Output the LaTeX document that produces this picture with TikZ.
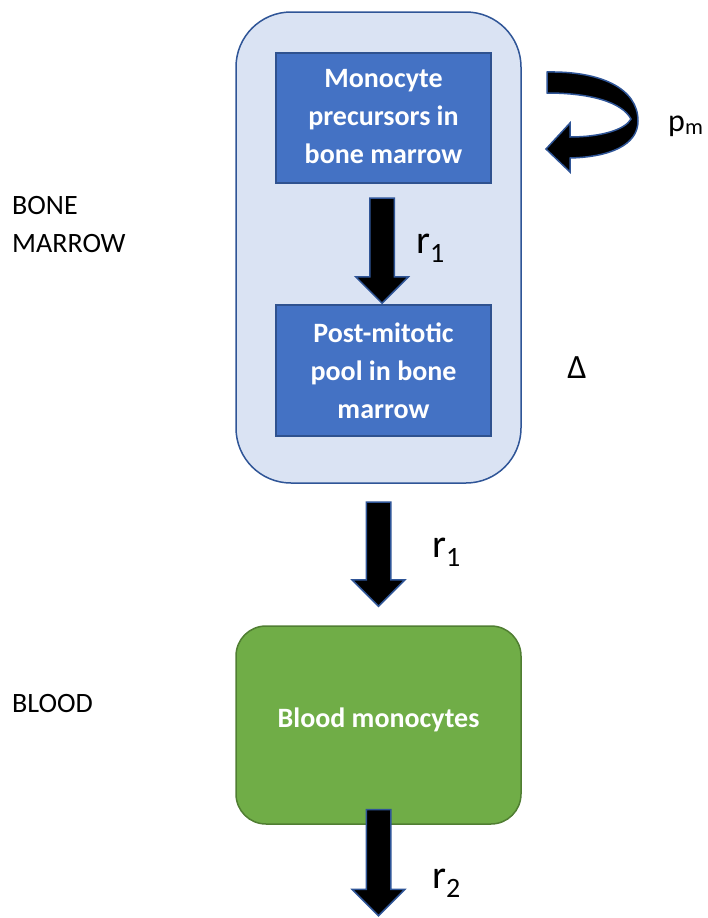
\documentclass[tikz,border=0pt]{standalone}
\usepackage{fontspec}
\setmainfont{Carlito}
\usepackage{tikz}
\usetikzlibrary{shapes.arrows,positioning}
\definecolor{paleblue}{HTML}{DAE3F3}
\definecolor{edgeblue}{HTML}{2F5597}
\definecolor{boxblue}{HTML}{4472C4}
\definecolor{boxedge}{HTML}{2F528F}
\definecolor{bloodgreen}{HTML}{70AD47}
\definecolor{greenedge}{HTML}{507E32}
\newcommand\bodyfont{\fontsize{28}{38}\selectfont}
\tikzset{cellbox/.style={draw=boxedge,fill=boxblue,line width=1.5pt,text=white,
    font=\bodyfont\bfseries,align=center,minimum width=215pt,minimum height=130pt,inner sep=0pt}}
\tikzset{blockarrow/.style={single arrow,draw=edgeblue,fill=black,line width=1.5pt,
    inner xsep=0pt,inner ysep=11.5pt,single arrow head extend=14pt,
    rotate=-90,anchor=tip}}
\tikzset{rate/.style={font=\fontsize{40}{44}\selectfont,anchor=base west,inner sep=0pt}}
\tikzset{place/.style={align=left,anchor=base west,inner sep=0pt}}

\begin{document}
\begin{tikzpicture}[x=1pt,y=-1pt,font=\bodyfont]
        \useasboundingbox (0,0) rectangle (707,918);
        % compartments
        \node(bm)[draw=edgeblue,fill=paleblue,line width=1.5pt,rounded corners=55pt,
          minimum width=285pt,minimum height=471pt] at (378.5,247.5){};
        \node(pre)[cellbox] at (383.5,118){\raisebox{-8pt}{\begin{tabular}{@{}c@{}}Monocyte\\precursors in\\bone marrow\end{tabular}}};
        \node(pmp)[cellbox,minimum height=131pt] at (383.5,370.5){Post-mitotic\\pool in bone\\marrow};
        \node(blood)[draw=greenedge,fill=bloodgreen,line width=1.5pt,rounded corners=30pt,
          minimum width=285pt,minimum height=198pt,text=white,font=\bodyfont\bfseries] at (378.5,725){\raisebox{14pt}{Blood monocytes}};
        % flows
        \node(a1)[blockarrow,minimum height=105pt] at ([xshift=-1.5pt]pmp.north){};
        \node(a2)[blockarrow,minimum height=104pt] at ([yshift=18pt]blood.north){};
        \node(a3)[blockarrow,minimum height=106pt] at ([yshift=-92pt]blood.south){};
        \draw[draw=edgeblue,fill=black,line width=1.5pt]
          (547,72) .. controls (600,71) and (638,88) .. (638,121)
          .. controls (638,145) and (610,157) .. (570,158) -- (570,172) -- (546,149)
          -- (570,123) -- (570,137) .. controls (600,137) and (625,130) .. (631,119)
          .. controls (622,102) and (590,93) .. (547,93) -- cycle;
        % labels
        \node(r1)[rate] at (416,253){r\textsubscript{1}};
        \node(r1b)[rate] at (432,557){r\textsubscript{1}};
        \node(r2)[rate] at (432,888){r\textsubscript{2}};
        \node(pm)[rate,font=\fontsize{32}{36}\selectfont] at (668,131){p\textsubscript{m}};
        \node(delta)[font=\fontsize{34}{38}\selectfont] at (577,368){Δ};
        \node(bmlbl)[place] at (12,252){BONE\\MARROW};
        \node(bllbl)[place] at (12,712){BLOOD};
      \end{tikzpicture}
\end{document}
